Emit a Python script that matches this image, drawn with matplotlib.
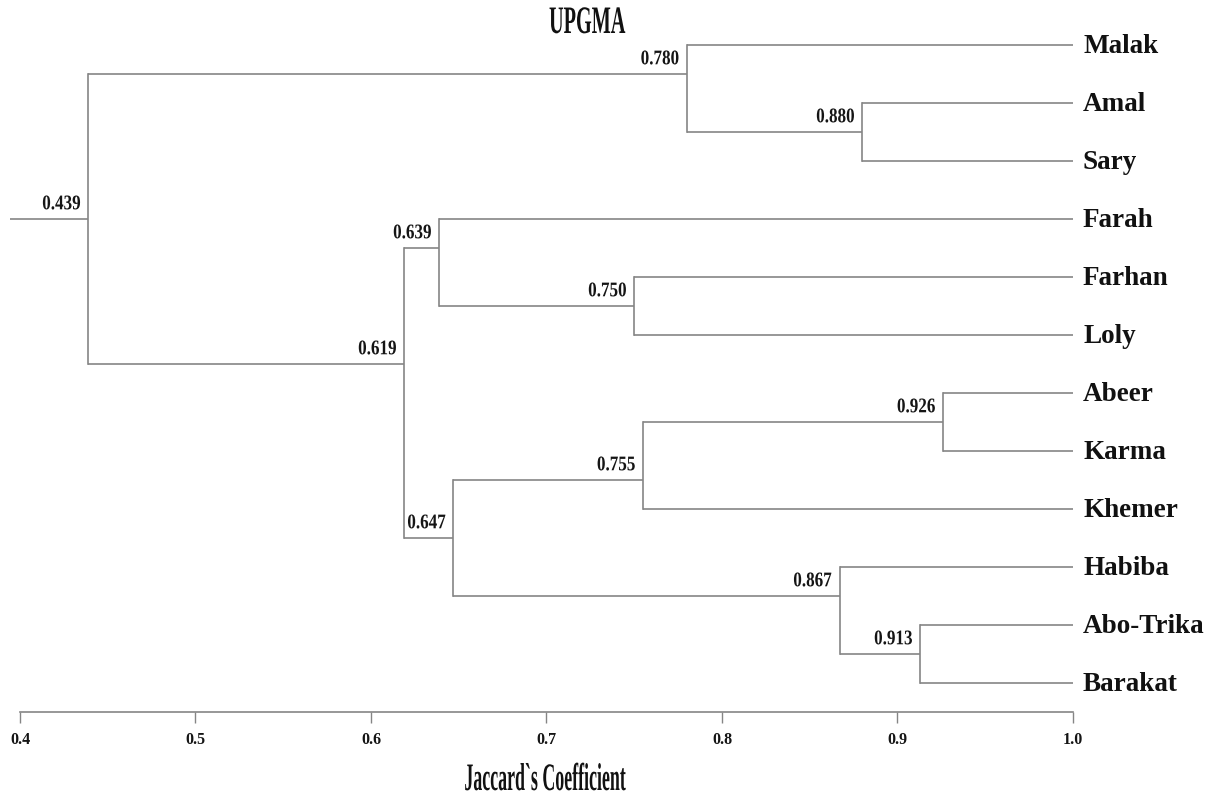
import matplotlib
matplotlib.use("Agg")
import matplotlib.pyplot as plt
from matplotlib.patheffects import AbstractPathEffect
from matplotlib.transforms import Affine2D

# ---------------- data ----------------
leaf_names = ["Malak", "Amal", "Sary", "Farah", "Farhan", "Loly",
              "Abeer", "Karma", "Khemer", "Habiba", "Abo-Trika", "Barakat"]
# merges (scipy-like ids: leaves 0..11, internal nodes 12..)
merge_a = [1, 0, 4, 3, 6, 16, 10, 9, 17, 15, 13]
merge_b = [2, 12, 5, 14, 7, 8, 11, 18, 19, 20, 21]
merge_sim = [0.880, 0.780, 0.750, 0.639, 0.926, 0.755, 0.913, 0.867, 0.647, 0.619, 0.439]
xticks = [0.4, 0.5, 0.6, 0.7, 0.8, 0.9, 1.0]
xtick_labels = ["0.4", "0.5", "0.6", "0.7", "0.8", "0.9", "1.0"]
title_text = "UPGMA"
xlabel_text = "Jaccard`s Coefficient"

# ---------------- style ----------------
LINE = "#858585"
SERIF = "Liberation Serif"


class Condense(AbstractPathEffect):
    """Draw text horizontally compressed (like a condensed typeface)."""
    def __init__(self, sx, pivot="center"):
        super().__init__()
        self.sx = sx
        self.pivot = pivot

    def draw_path(self, renderer, gc, tpath, affine, rgbFace=None):
        ext = tpath.get_extents()
        if self.pivot == "left":
            px = ext.x0
        elif self.pivot == "right":
            px = ext.x1
        else:
            px = 0.5 * (ext.x0 + ext.x1)
        t = Affine2D().translate(-px, 0).scale(self.sx, 1.0).translate(px, 0) + affine
        renderer.draw_path(gc, tpath, t, rgbFace)


W, H = 1211, 798
fig = plt.figure(figsize=(W / 100, H / 100), dpi=100)
fig.patch.set_facecolor("white")
left_px, right_px, top_px, bottom_px = 20, 1073, 16, 712
ax = fig.add_axes([left_px / W, 1 - bottom_px / H,
                   (right_px - left_px) / W, (bottom_px - top_px) / H])

n = len(leaf_names)
members = {i: [i] for i in range(n)}
ypos = {i: float(i) for i in range(n)}
xpos = {i: 1.0 for i in range(n)}

lw = 1.2
for k, (a, b, s) in enumerate(zip(merge_a, merge_b, merge_sim)):
    node = n + k
    members[node] = members[a] + members[b]
    is_root = (k == len(merge_sim) - 1)
    if is_root:
        y = 0.5 * (ypos[a] + ypos[b])
    else:
        y = 0.5 * (max(members[a]) + min(members[b]))
    ypos[node] = y
    xpos[node] = s
    # vertical connector
    ax.plot([s, s], [ypos[a], ypos[b]], color=LINE, lw=lw, solid_capstyle="projecting")
    # horizontal branches to children
    ax.plot([s, xpos[a]], [ypos[a], ypos[a]], color=LINE, lw=lw, solid_capstyle="butt")
    ax.plot([s, xpos[b]], [ypos[b], ypos[b]], color=LINE, lw=lw, solid_capstyle="butt")
    # node label
    ax.annotate(f"{s:.3f}", (s, y), xytext=(-5.5, 7.0), textcoords="offset points",
                ha="right", va="baseline", fontsize=15, fontweight="bold",
                family=SERIF, color="#151515", annotation_clip=False,
                path_effects=[Condense(0.82, "right")])
    if is_root:
        xmin = xticks[0]
        ax.plot([xmin - 0.0057, s], [y, y], color=LINE, lw=lw, clip_on=False,
                solid_capstyle="butt")

# leaf labels
for i, name in enumerate(leaf_names):
    ax.annotate(name, (1.0, ypos[i]), xytext=(7.2, -5.8), textcoords="offset points",
                ha="left", va="baseline", fontsize=19.5, fontweight="bold",
                family=SERIF, color="#111111", annotation_clip=False)

ax.set_xlim(xticks[0], xticks[-1])
ax.set_ylim(n - 0.5, -0.5)
for sp in ["left", "right", "top"]:
    ax.spines[sp].set_visible(False)
ax.spines["bottom"].set_color(LINE)
ax.spines["bottom"].set_linewidth(lw)
ax.spines["bottom"].set_bounds(xticks[0], xticks[-1])
ax.set_yticks([])
ax.set_xticks(xticks)
ax.set_xticklabels(xtick_labels)
ax.tick_params(axis="x", direction="out", length=7.9, width=1.0, color=LINE, pad=6.5,
               labelsize=11.5, labelcolor="#151515")
for lab in ax.get_xticklabels():
    lab.set_fontfamily(SERIF)
    lab.set_fontweight("bold")
    lab.set_fontsize(11.5)
ax.patch.set_alpha(0)

fig.text(587 / W, 1 - 33 / H, title_text, ha="center", va="baseline",
         fontsize=28, fontweight="bold", family=SERIF, color="#111111",
         path_effects=[Condense(0.52, "center")])
fig.text(545 / W, 1 - 790 / H, xlabel_text, ha="center", va="baseline",
         fontsize=28, fontweight="bold", family=SERIF, color="#111111",
         path_effects=[Condense(0.46, "center")])

fig.savefig("out.png", dpi=100, facecolor="white")
